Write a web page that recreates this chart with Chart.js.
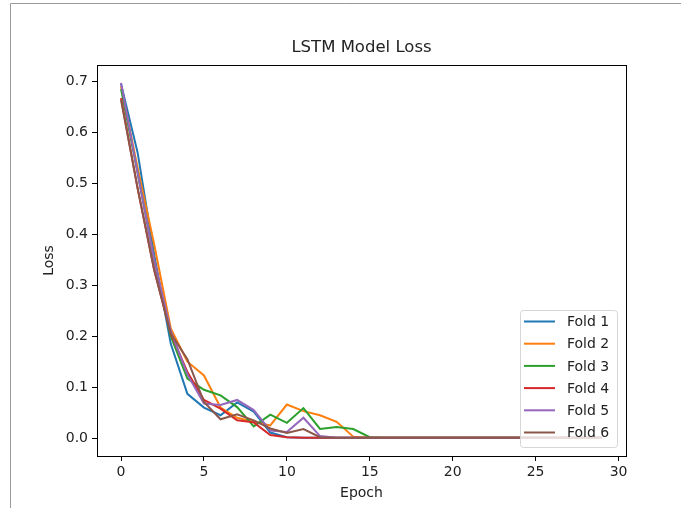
<!DOCTYPE html>
<html>
<head>
<meta charset="utf-8">
<script src="https://cdn.jsdelivr.net/npm/chart.js@4/dist/chart.umd.min.js"></script>
<style>
  html, body { margin: 0; padding: 0; background: #fff; }
  #wrap { width: 681px; height: 508px; position: relative; }
</style>
</head>
<body>
<div id="wrap"><canvas id="lossChart"></canvas></div>
<script>
// Loss per epoch (30 epochs)
const epochs = Array.from({ length: 30 }, (_, i) => i);
const xTicks = [0, 5, 10, 15, 20, 25, 30];
const yTicks = [0, 0.1, 0.2, 0.3, 0.4, 0.5, 0.6, 0.7];

const fold1 = [0.695, 0.56, 0.36, 0.185, 0.087, 0.060, 0.045, 0.070, 0.052, 0.011, 0.002, 0.001, 0.001, 0.001, 0.001, 0.001, 0.001, 0.001, 0.001, 0.001, 0.001, 0.001, 0.001, 0.001, 0.001, 0.001, 0.001, 0.001, 0.001, 0.001];
const fold2 = [0.690, 0.53, 0.38, 0.215, 0.150, 0.123, 0.060, 0.040, 0.032, 0.025, 0.066, 0.053, 0.045, 0.032, 0.003, 0.001, 0.001, 0.001, 0.001, 0.001, 0.001, 0.001, 0.001, 0.001, 0.001, 0.001, 0.001, 0.001, 0.001, 0.001];
const fold3 = [0.685, 0.52, 0.35, 0.200, 0.117, 0.095, 0.084, 0.061, 0.023, 0.046, 0.030, 0.059, 0.018, 0.022, 0.018, 0.002, 0.001, 0.001, 0.001, 0.001, 0.001, 0.001, 0.001, 0.001, 0.001, 0.001, 0.001, 0.001, 0.001, 0.001];
const fold4 = [0.667, 0.49, 0.33, 0.205, 0.130, 0.075, 0.058, 0.035, 0.031, 0.006, 0.002, 0.001, 0.001, 0.001, 0.001, 0.001, 0.001, 0.001, 0.001, 0.001, 0.001, 0.001, 0.001, 0.001, 0.001, 0.001, 0.001, 0.001, 0.001, 0.001];
const fold5 = [0.697, 0.52, 0.35, 0.210, 0.125, 0.068, 0.065, 0.075, 0.055, 0.015, 0.012, 0.040, 0.004, 0.001, 0.001, 0.001, 0.001, 0.001, 0.001, 0.001, 0.001, 0.001, 0.001, 0.001, 0.001, 0.001, 0.001, 0.001, 0.001, 0.001];
const fold6 = [0.663, 0.49, 0.33, 0.205, 0.155, 0.071, 0.037, 0.047, 0.035, 0.019, 0.010, 0.018, 0.002, 0.001, 0.001, 0.001, 0.001, 0.001, 0.001, 0.001, 0.001, 0.001, 0.001, 0.001, 0.001, 0.001, 0.001, 0.001, 0.001, 0.001];

const foldNames = ["Fold 1", "Fold 2", "Fold 3", "Fold 4", "Fold 5", "Fold 6"];
const foldValues = [fold1, fold2, fold3, fold4, fold5, fold6];
const foldColors = ["#1f77b4", "#ff7f0e", "#2ca02c", "#d62728", "#9467bd", "#8c564b"];

const chartTitle = "LSTM Model Loss";
const FONT = "'DejaVu Sans', sans-serif";

// Frame, title, top/right spines and legend drawn on the canvas
const framePlugin = {
  id: "frame",
  beforeDraw(chart) {
    const ctx = chart.ctx;
    ctx.save();
    ctx.fillStyle = "#fff";
    ctx.fillRect(0, 0, chart.width, chart.height);
    ctx.strokeStyle = "#9a9a9a";
    ctx.lineWidth = 1;
    ctx.beginPath();
    ctx.moveTo(10.5, chart.height);
    ctx.lineTo(10.5, 3.5);
    ctx.lineTo(chart.width, 3.5);
    ctx.stroke();
    ctx.restore();
  },
  afterDraw(chart) {
    const ctx = chart.ctx;
    const a = chart.chartArea;
    ctx.save();
    ctx.strokeStyle = "#000";
    ctx.lineWidth = 1;
    ctx.strokeRect(Math.round(a.left) + 0.5, Math.round(a.top) + 0.5,
      Math.round(a.right - a.left), Math.round(a.bottom - a.top));

    // title centred over the axes
    ctx.fillStyle = "#222";
    ctx.font = "16.5px " + FONT;
    ctx.textAlign = "center";
    ctx.textBaseline = "middle";
    ctx.fillText(chartTitle, (a.left + a.right) / 2, 48);

    // legend, lower right like matplotlib
    const sets = chart.data.datasets;
    const rowH = 22.2;
    const boxW = 97, boxH = 137;
    const bx = a.right - 9 - boxW, by = a.bottom - 9 - boxH;
    ctx.fillStyle = "rgba(255,255,255,0.8)";
    ctx.strokeStyle = "#d6d6d6";
    ctx.beginPath();
    ctx.roundRect(bx + 0.5, by + 0.5, boxW, boxH, 3);
    ctx.fill();
    ctx.stroke();
    ctx.font = "14px " + FONT;
    ctx.textAlign = "left";
    ctx.textBaseline = "middle";
    sets.forEach((ds, i) => {
      const y = by + 11.5 + i * rowH;
      ctx.strokeStyle = ds.borderColor;
      ctx.lineWidth = 2;
      ctx.beginPath();
      ctx.moveTo(bx + 4, y);
      ctx.lineTo(bx + 35, y);
      ctx.stroke();
      ctx.fillStyle = "#222";
      ctx.fillText(ds.label, bx + 47, y + 1);
    });
    ctx.restore();
  },
};

const ctx = document.getElementById("lossChart").getContext("2d");
const lossChart = new Chart(ctx, {
  type: "line",
  data: {
    labels: epochs,
    datasets: foldNames.map((name, i) => ({
      label: name,
      data: epochs.map((e, j) => ({ x: e, y: foldValues[i][j] })),
      borderColor: foldColors[i],
      backgroundColor: foldColors[i],
      borderWidth: 2,
      pointRadius: 0,
      tension: 0,
      fill: false,
      order: foldNames.length - i, // later folds on top, like matplotlib
    })),
  },
  options: {
    responsive: true,
    maintainAspectRatio: false,
    animation: false,
    layout: { padding: { left: 0, right: 55, top: 65, bottom: 0 } },
    scales: {
      x: {
        type: "linear",
        min: -1.45,
        max: 30.45,
        afterBuildTicks: (scale) => {
          scale.ticks = xTicks.map((v) => ({ value: v }));
        },
        afterFit: (scale) => {
          scale.height = 52;
        },
        ticks: {
          color: "#222",
          font: { family: FONT, size: 14 },
          padding: 3,
          maxRotation: 0,
          callback: (v) => String(v),
        },
        grid: {
          drawOnChartArea: false,
          drawTicks: true,
          tickLength: 5,
          tickColor: "#000",
        },
        border: { display: true, color: "#000", width: 1 },
        title: {
          display: true,
          text: "Epoch",
          color: "#222",
          font: { family: FONT, size: 14 },
          padding: { top: 0, bottom: 6 },
        },
      },
      y: {
        type: "linear",
        min: -0.035,
        max: 0.732,
        afterBuildTicks: (scale) => {
          scale.ticks = yTicks.map((v) => ({ value: v }));
        },
        afterFit: (scale) => {
          scale.width = 97;
        },
        ticks: {
          color: "#222",
          font: { family: FONT, size: 14 },
          padding: 4,
          callback: (v) => v.toFixed(1),
        },
        grid: {
          drawOnChartArea: false,
          drawTicks: true,
          tickLength: 5,
          tickColor: "#000",
        },
        border: { display: true, color: "#000", width: 1 },
        title: {
          display: true,
          text: "Loss",
          color: "#222",
          font: { family: FONT, size: 14 },
          padding: { top: 41, bottom: 0 },
        },
      },
    },
    plugins: {
      legend: { display: false },
      tooltip: { enabled: false },
      title: { display: false },
    },
  },
  plugins: [framePlugin],
});
</script>
</body>
</html>
